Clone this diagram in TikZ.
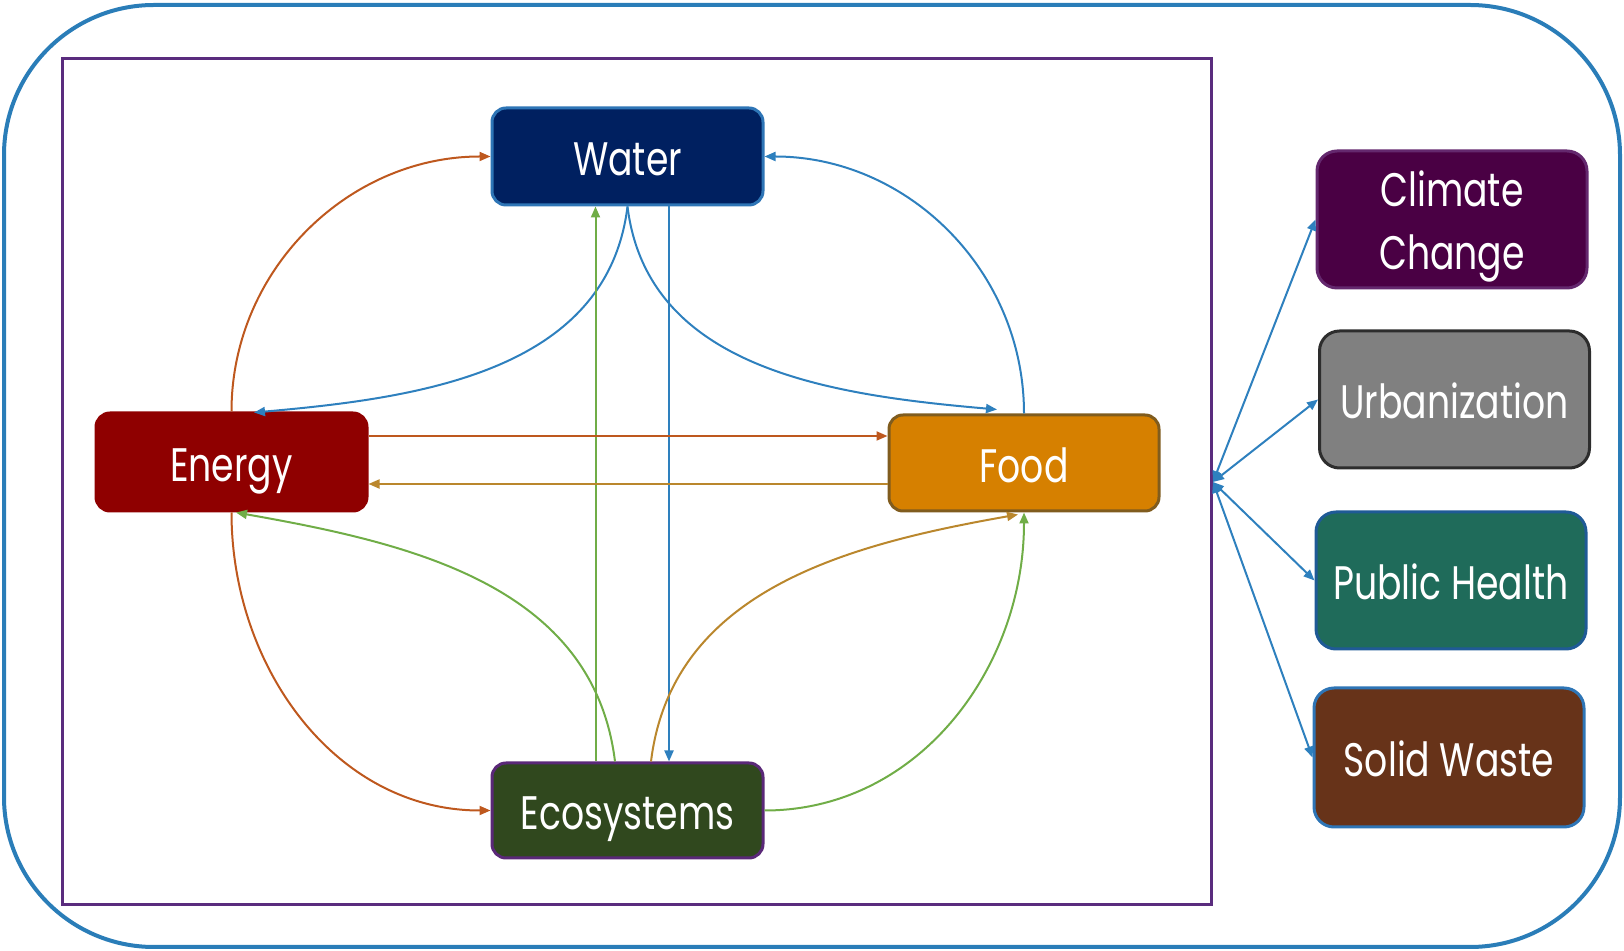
\documentclass[tikz,border=0pt]{standalone}
\usepackage{fontspec}
\setmainfont[FakeStretch=0.77]{Poppins}
\usetikzlibrary{arrows.meta,calc}
\definecolor{outerc}{RGB}{42,125,184}
\definecolor{innerc}{RGB}{90,44,126}
\definecolor{waterf}{RGB}{0,32,96}
\definecolor{waterb}{RGB}{46,117,182}
\definecolor{energyf}{RGB}{143,0,0}
\definecolor{foodf}{RGB}{214,128,0}
\definecolor{foodb}{RGB}{128,92,30}
\definecolor{ecof}{RGB}{48,72,30}
\definecolor{ecob}{RGB}{90,40,120}
\definecolor{climf}{RGB}{74,0,68}
\definecolor{climb}{RGB}{100,40,110}
\definecolor{urbf}{RGB}{128,128,128}
\definecolor{urbb}{RGB}{45,45,45}
\definecolor{pubf}{RGB}{31,107,90}
\definecolor{pubb}{RGB}{31,90,150}
\definecolor{solf}{RGB}{103,51,25}
\definecolor{solb}{RGB}{46,117,182}
\definecolor{cbrown}{RGB}{190,88,30}
\definecolor{cblue}{RGB}{46,128,190}
\definecolor{cgreen}{RGB}{112,173,71}
\definecolor{cochre}{RGB}{186,135,45}
\begin{document}
\begin{tikzpicture}[x=0.5pt,y=-0.5pt,
  box/.style={rounded corners=7pt, line width=1.5pt, text=white, inner sep=0pt,
    font=\fontsize{23.5}{31.5}\selectfont, align=center},
  capc/.style={text height=19.5pt, text depth=0pt},
  sidebox/.style={box, rounded corners=10pt, minimum width=135pt, minimum height=68.5pt},
  conn/.style={line width=1pt, -{Triangle[length=5.5pt,width=4.5pt]}},
  dconn/.style={line width=1pt, {Triangle[length=5.5pt,width=4.5pt]}-{Triangle[length=5.5pt,width=4.5pt]}},
]
\useasboundingbox (0,0) rectangle (1624,951);
\draw[outerc, line width=2pt, rounded corners=75pt] (4,5) rectangle (1620,947);
\draw[innerc, line width=1.5pt] (62,59) rectangle (1211,905);

\node[box, capc, fill=waterf, draw=waterb, minimum width=135.5pt, minimum height=48.5pt] (water) at (627.5,156.5) {Water};
\node[box, capc, fill=energyf, draw=energyf, minimum width=135.5pt, minimum height=49pt] (energy) at (231.5,462) {Energy};
\node[box, capc, fill=foodf, draw=foodb, minimum width=135pt, minimum height=48pt] (food) at (1024,463) {Food};
\node[box, capc, fill=ecof, draw=ecob, minimum width=135.5pt, minimum height=47.5pt] (eco) at (627.5,810.5) {Ecosystems};

\node[sidebox, fill=climf, draw=climb] (clim) at (1452,219.5) {};
\node[box, yshift=-3.5pt] (climtext) at (clim.center) {Climate\\Change};
\node[sidebox, capc, fill=urbf, draw=urbb] (urb) at (1454.5,399.5) {Urbanization};
\node[sidebox, capc, fill=pubf, draw=pubb] (pub) at (1451,580.5) {Public Health};
\node[sidebox, capc, fill=solf, draw=solb, minimum height=69.5pt] (sol) at (1449,757.5) {Solid Waste};

% helper points
\coordinate (wgreen) at ($(water.south)+(-32,0)$);
\coordinate (egreen) at ($(eco.north)+(-32,0)$);
\coordinate (wblue) at ($(water.south)+(41.5,0)$);
\coordinate (eblue) at ($(eco.north)+(41.5,0)$);
\coordinate (en1) at ($(energy.east)+(0,-26)$);
\coordinate (fd1) at ($(food.west)+(0,21)$);
\coordinate (entop) at ($(energy.north)+(22.5,1)$);
\coordinate (fdtop) at ($(food.north)+(-27,-4)$);
\coordinate (eco2) at ($(eco.north)+(-12.5,0)$);
\coordinate (eco3) at ($(eco.north)+(23.5,0)$);
\coordinate (enbot) at ($(energy.south)+(4.5,0)$);
\coordinate (fdbot) at ($(food.south)+(-6,2)$);
\coordinate (hub) at (1213,482);

\draw[conn, cbrown] (energy.north) to[out=90,in=180] (water.west);
\draw[conn, cblue] (food.north) to[out=90,in=0] (water.east);
\draw[conn, cblue] (water.south) to[out=-97,in=5] (entop);
\draw[conn, cblue] (water.south) to[out=-83,in=175] (fdtop);
\draw[conn, cgreen] (egreen) -- (wgreen);
\draw[conn, cblue] (wblue) -- (eblue);
\draw[conn, cbrown] (en1) -- (en1 -| food.west);
\draw[conn, cochre] (fd1) -- (fd1 -| energy.east);
\draw[conn, cgreen] (eco2) to[out=97,in=-10] (enbot);
\draw[conn, cochre] (eco3) to[out=83,in=190] (fdbot);
\draw[conn, cbrown] (energy.south) to[out=-90,in=180] (eco.west);
\draw[conn, cgreen] (eco.east) to[out=0,in=-90] (food.south);

\draw[dconn, cblue] (hub) -- (clim.west);
\draw[dconn, cblue] (hub) -- (urb.west);
\draw[dconn, cblue] (hub) -- (pub.west);
\draw[dconn, cblue] (hub) -- (sol.west);
\end{tikzpicture}
\end{document}
